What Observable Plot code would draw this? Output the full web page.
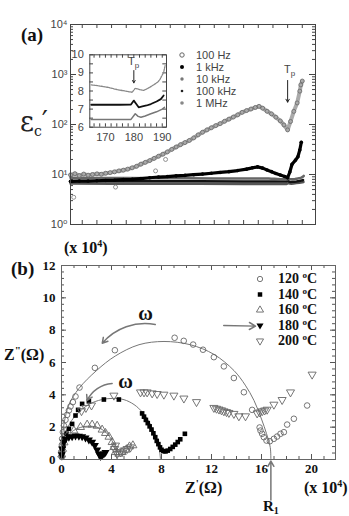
<!DOCTYPE html>
<html><head><meta charset="utf-8">
<script src="https://cdn.jsdelivr.net/npm/d3@7"></script>
<script src="https://cdn.jsdelivr.net/npm/@observablehq/plot@0.6"></script>
<style>
body{margin:0;background:#fff;}
#root{position:relative;width:349px;height:516px;overflow:hidden;background:#fff;}
#root svg{position:absolute;}
.lab{position:absolute;white-space:nowrap;line-height:1;}
.ser{font-family:"Liberation Serif","DejaVu Serif",serif;font-weight:bold;color:#111;}
.san{font-family:"Liberation Sans","DejaVu Sans",sans-serif;color:#444;}
</style></head><body><div id="root"></div>
<script>
// ---------- Panel (a): permittivity vs temperature (log y) ----------
const freqLabels = ["100 Hz", "1 kHz", "10 kHz", "100 kHz", "1 MHz"];
const Tp = 180;
const hz100 = [[32,9.8],[35,10.4],[38,9.5],[41,10.2],[44,9.7],[47,10.0],[50,10.3],[53,10.1],[56,10.6],[59,10.9],[62,11.3],[65,11.8],[68,12.2],[71,12.8],[74,13.6],[77,14.6],[80,16.1],[83,17.5],[86,19],[89,21],[92,23.2],[95,25.5],[98,28.3],[101,31.8],[104,35.5],[107,39.5],[110,43.5],[113,48],[116,54],[119,62],[122,70],[125,78],[128,86],[131,95],[134,104],[137,116],[140,128],[143,141],[146,156],[149,175],[152,190],[155,204],[158,219],[160.5,231],[163,212],[166,184],[169,163],[172,140],[175,118],[177.5,98],[180,78],[182,115],[184.2,183],[186.5,270],[188.3,465],[189,620],[190,740]];
const hz100Outliers = [[34.2,3.5],[62.7,5.6],[90,11.8],[96.8,20]];
const khz1 = [[32,7.3],[38,7.4],[44,7.4],[50,7.5],[56,7.6],[62,7.7],[68,7.9],[74,8.0],[80,8.3],[86,8.6],[92,8.9],[98,9.1],[104,9.4],[110,9.6],[116,9.9],[122,10.2],[128,10.6],[134,11.0],[140,11.4],[146,12.0],[152,12.8],[156,13.6],[159.5,14.2],[163,13.4],[166,12.3],[169,11.4],[172,10.5],[175,9.8],[178,9.1],[180,8.6],[181.5,11.2],[183,16],[185.4,19.4],[187,22.6],[188.3,31],[189.3,44]];
const khz10 = [[32,8.6],[50,8.5],[70,8.5],[90,8.4],[110,8.4],[130,8.3],[150,8.3],[165,8.34],[167,8.3],[169,8.25],[171,8.2],[173,8.12],[175,8.05],[177,8.0],[179.4,7.93],[180.5,8.15],[182,8.08],[183.4,8.03],[185,8.15],[187,8.34],[188.5,8.5],[189.3,8.67],[190.5,9.04],[191,9.4]];
const khz100 = [[32,7.4],[60,7.35],[90,7.3],[120,7.3],[150,7.25],[165,7.24],[170,7.24],[175,7.24],[179,7.25],[180,7.47],[180.8,7.3],[181.7,7.1],[183,7.15],[184.5,7.2],[186,7.28],[188,7.42],[189.5,7.55],[190.5,7.75]];
const mhz1 = [[32,6.6],[60,6.55],[90,6.5],[120,6.5],[150,6.45],[165,6.42],[170,6.42],[175,6.42],[179,6.43],[180.5,6.74],[181.5,6.6],[182.5,6.55],[184,6.62],[186,6.74],[188,6.85],[190,7.0],[190.8,7.1]];
const epsTicks = [1, 10, 100, 1000, 10000];
const insetXTicks = [170, 180, 190];
const insetYTicks = [6, 7, 8, 9, 10];

// ---------- Panel (b): Cole-Cole plots ----------
const tempLabels = ["120", "140", "160", "180", "200"];
const c120 = [[0.02,0.15],[0.0,0.45],[0.03,0.9],[0.05,1.28],[0.11,1.69],[0.19,2.1],[0.32,2.45],[0.45,2.76],[0.59,3.03],[0.72,3.28],[0.91,3.55],[1.12,3.9],[1.44,4.45],[2.67,5.67],[4.27,6.76],[9.05,7.53],[9.78,7.34],[10.53,7.11],[11.32,6.79],[12.19,6.33],[12.99,5.76],[13.79,5.04],[14.59,4.16],[15.25,3.07],[15.85,1.98],[15.92,1.79],[16.05,1.59],[16.19,1.38],[16.4,1.17],[16.67,1.13],[16.99,1.28],[17.25,1.42],[17.52,1.59],[17.79,1.69],[18.05,2.16],[18.59,2.52],[19.65,3.34]];
const s140 = [[0.03,0.2],[0.08,0.5],[0.15,0.85],[0.25,1.2],[0.4,1.6],[0.59,1.9],[0.85,2.2],[1.12,2.72],[1.33,3.07],[1.65,3.44],[2.19,3.6],[3.39,3.71],[4.59,3.71],[6.45,2.85],[6.6,2.65],[6.75,2.45],[6.9,2.25],[7.05,2.05],[7.2,1.85],[7.35,1.62],[7.5,1.38],[7.62,1.15],[7.75,0.95],[7.88,0.75],[8.0,0.6],[8.15,0.52],[8.32,0.5],[8.5,0.55],[8.7,0.65],[8.9,0.78],[9.1,0.92],[9.3,1.08],[9.5,1.25],[9.87,1.59]];
const t160 = [[0.02,0.3],[0.08,0.65],[0.2,1.05],[0.45,1.45],[0.99,1.79],[1.52,2.0],[2.05,2.15],[2.45,2.15],[2.85,2.08],[3.25,1.84],[3.52,1.63],[3.8,1.4],[4.05,1.07],[4.19,0.76],[4.32,0.45],[4.59,0.35],[4.85,0.45],[5.17,0.6],[5.44,0.8],[5.71,0.87]];
const v180 = [[0.02,0.3],[0.05,0.66],[0.19,1.07],[0.32,1.28],[0.59,1.38],[0.85,1.42],[1.12,1.46],[1.39,1.45],[1.65,1.42],[1.92,1.34],[2.19,1.22],[2.45,1.07],[2.67,0.87],[2.85,0.6],[2.99,0.35],[3.12,0.19],[3.25,0.25],[3.39,0.35],[3.52,0.45]];
const v200 = [[4.25,0.66],[4.32,0.87],[4.45,0.35],[4.72,0.45],[4.99,0.56],[5.25,0.66],[5.52,0.76],[1.6,3.0],[1.95,3.2],[2.4,3.35],[4.19,3.96],[6.32,4.16],[6.6,4.16],[6.85,4.16],[7.25,4.1],[7.65,4.06],[8.19,4.02],[8.99,3.96],[9.79,3.78],[10.8,3.56],[12.19,3.2],[12.4,3.15],[12.6,3.1],[12.8,3.05],[12.99,2.99],[13.2,2.94],[13.39,2.89],[13.79,2.83],[14.19,2.68],[14.72,2.68],[15.65,2.86],[15.85,2.92],[16.05,2.99],[16.25,3.04],[16.45,3.09],[16.99,3.4],[17.65,3.69],[18.32,4.16],[20.05,5.26]];
const arc120 = [[0,0],[0.05,1.0],[0.2,2.2],[0.6,3.4],[1.4,4.4],[2.8,5.5],[4.3,6.4],[6.2,7.1],[8.2,7.3],[10.3,7.1],[12.2,6.5],[13.8,5.5],[14.7,4.6],[15.4,3.65],[16.0,2.5],[16.4,1.6],[16.7,0.75],[16.75,0]];
const arc140 = [[0,0],[0.1,0.9],[0.35,1.7],[0.8,2.4],[1.5,3.0],[2.3,3.45],[3.2,3.7],[4.1,3.78],[5.0,3.7],[5.8,3.4],[6.5,2.9],[7.1,2.2],[7.5,1.5],[7.8,0.75],[7.92,0]];
const arc160 = [[0,0],[0.1,0.7],[0.35,1.25],[0.8,1.7],[1.5,1.98],[2.3,2.06],[3.0,1.95],[3.6,1.65],[4.05,1.15],[4.35,0.55],[4.45,0]];
const R1 = 16.75;
const zxTicks = [0, 4, 8, 12, 16, 20];
const zyTicks = [0, 2, 4, 6, 8, 10, 12];

const root = document.getElementById("root");
const X = d => d[0], Y = d => d[1];
const supd = n => "⁰¹²³⁴⁵⁶⁷⁸⁹"[n];

// ---- Main plot (a)
const minorLog = [];
for (const dec of [1, 10, 100, 1000]) for (let k = 2; k <= 9; k++) minorLog.push(dec * k);
const xT = d3.range(40, 199, 10);
const A = Plot.plot({
  width: 349, height: 232, marginLeft: 70, marginRight: 34, marginTop: 24, marginBottom: 8,
  x: {domain: [32, 199], axis: null},
  y: {type: "log", domain: [1, 1e4], axis: null},
  style: {background: "transparent", overflow: "visible", fontFamily: "Liberation Sans, DejaVu Sans, sans-serif", color: "#444"},
  marks: [
    Plot.tickX(xT, {x: d => d, insetTop: 196, stroke: "#444"}),
    Plot.tickX(xT, {x: d => d, insetBottom: 196, stroke: "#444"}),
    Plot.tickY(epsTicks, {y: d => d, insetRight: 239, stroke: "#444"}),
    Plot.tickY(epsTicks, {y: d => d, insetLeft: 239, stroke: "#444"}),
    Plot.tickY(minorLog, {y: d => d, insetRight: 242, stroke: "#444"}),
    Plot.tickY(minorLog, {y: d => d, insetLeft: 242, stroke: "#444"}),
    Plot.axisY({ticks: epsTicks, tickSize: 0, tickPadding: 3, fontSize: 11, label: null,
      tickFormat: d => "10" + supd(Math.round(Math.log10(d)))}),
    Plot.line(mhz1, {x: X, y: Y, stroke: "#555", strokeWidth: 2.5}),
    Plot.line(khz100, {x: X, y: Y, stroke: "#111", strokeWidth: 2.5}),
    Plot.line(khz10, {x: X, y: Y, stroke: "#666", strokeWidth: 2.5}),
    Plot.line(khz1, {x: X, y: Y, stroke: "#000", strokeWidth: 3.2}),
    Plot.dot(khz1, {x: X, y: Y, fill: "#000", r: 1.8}),
    Plot.line(hz100, {x: X, y: Y, stroke: "#aaa", strokeWidth: 4}),
    Plot.dot(hz100, {x: X, y: Y, stroke: "#666", fill: "none", r: 2, strokeWidth: 0.8}),
    Plot.dot(hz100Outliers, {x: X, y: Y, stroke: "#777", fill: "none", r: 2, strokeWidth: 0.8}),
    Plot.arrow([0], {x1: Tp, x2: Tp, y1: 760, y2: 280, stroke: "#222", headLength: 5, strokeWidth: 1}),
    Plot.frame({stroke: "#444"})
  ]
});
A.style.left = "0px"; A.style.top = "0px";
root.appendChild(A);

// ---- Inset
const inXTicksMinor = d3.range(166, 192, 2);
const I = Plot.plot({
  width: 116, height: 104, marginLeft: 29.3, marginRight: 10, marginTop: 10.3, marginBottom: 21.3,
  x: {domain: [164.5, 191.5], axis: null},
  y: {domain: [6, 10], axis: null},
  style: {background: "transparent", overflow: "visible", fontFamily: "Liberation Sans, DejaVu Sans, sans-serif", color: "#444"},
  marks: [
    Plot.frame({fill: "white", stroke: null}),
    Plot.tickX(inXTicksMinor, {x: d => d, insetTop: 69, stroke: "#444"}),
    Plot.tickX(inXTicksMinor, {x: d => d, insetBottom: 69, stroke: "#444"}),
    Plot.tickY(d3.range(6, 10.01, 0.5), {y: d => d, insetRight: 73, stroke: "#444"}),
    Plot.tickY(d3.range(6, 10.01, 0.5), {y: d => d, insetLeft: 73, stroke: "#444"}),
    Plot.axisY({ticks: insetYTicks, tickSize: 0, tickPadding: 6, fontSize: 11, label: null, tickFormat: d => String(d)}),
    Plot.axisX({ticks: insetXTicks, tickSize: 0, tickPadding: 6, fontSize: 11, label: null, tickFormat: d => String(d)}),
    Plot.line(khz10.filter(d => d[0] >= 164.5), {x: X, y: Y, stroke: "#888", strokeWidth: 1.3, strokeDasharray: "1.5,1"}),
    Plot.line(khz100.filter(d => d[0] >= 164.5), {x: X, y: Y, stroke: "#111", strokeWidth: 1.8}),
    Plot.line(mhz1.filter(d => d[0] >= 164.5), {x: X, y: Y, stroke: "#777", strokeWidth: 1.5}),
    Plot.arrow([0], {x1: Tp, x2: Tp, y1: 9.13, y2: 8.45, stroke: "#222", headLength: 4, strokeWidth: 1}),
    Plot.frame({stroke: "#444"})
  ]
});
I.style.left = "60px"; I.style.top = "44px";
root.appendChild(I);

// ---- Panel (b)
const B = Plot.plot({
  width: 349, height: 266, marginLeft: 61, marginRight: 14, marginTop: 15, marginBottom: 57,
  x: {domain: [0, 21.92], axis: null},
  y: {domain: [0, 12], axis: null},
  style: {background: "transparent", overflow: "visible", fontFamily: "Liberation Serif, DejaVu Serif, serif", fontWeight: "bold", color: "#111"},
  marks: [
    Plot.tickX(d3.range(0, 22, 1), {x: d => d, insetTop: 191, stroke: "#555"}),
    Plot.tickX(d3.range(0, 22, 1), {x: d => d, insetBottom: 191, stroke: "#555"}),
    Plot.tickX(zxTicks, {x: d => d, insetTop: 189, stroke: "#555"}),
    Plot.tickX(zxTicks, {x: d => d, insetBottom: 189, stroke: "#555"}),
    Plot.tickY(d3.range(0, 12.01, 0.4), {y: d => d, insetRight: 271, stroke: "#555"}),
    Plot.tickY(d3.range(0, 12.01, 0.4), {y: d => d, insetLeft: 271, stroke: "#555"}),
    Plot.tickY(zyTicks, {y: d => d, insetRight: 269, stroke: "#555"}),
    Plot.tickY(zyTicks, {y: d => d, insetLeft: 269, stroke: "#555"}),
    Plot.axisX({ticks: zxTicks, tickSize: 0, tickPadding: 4, fontSize: 13, label: null}),
    Plot.axisY({ticks: zyTicks, tickSize: 0, tickPadding: 6, fontSize: 13, label: null}),
    Plot.line(arc120, {x: X, y: Y, stroke: "#777", strokeWidth: 1, curve: "catmull-rom"}),
    Plot.line(arc140, {x: X, y: Y, stroke: "#777", strokeWidth: 1, curve: "catmull-rom"}),
    Plot.line(arc160, {x: X, y: Y, stroke: "#777", strokeWidth: 1, curve: "catmull-rom"}),
    Plot.dot(c120, {x: X, y: Y, r: 2.8, stroke: "#666", fill: "none", strokeWidth: 0.9}),
    Plot.dot(s140, {x: X, y: Y, r: 2.6, symbol: "square", fill: "#000"}),
    Plot.dot(t160, {x: X, y: Y, r: 3, symbol: "triangle", stroke: "#666", fill: "none", strokeWidth: 0.9}),
    Plot.dot(v180, {x: X, y: Y, r: 3, symbol: "triangle", rotate: 180, fill: "#000"}),
    Plot.dot(v200, {x: X, y: Y, r: 3, symbol: "triangle", rotate: 180, stroke: "#666", fill: "none", strokeWidth: 0.9}),
    Plot.arrow([0], {x1: 7.5, y1: 8.35, x2: 3.26, y2: 7.19, bend: -30, stroke: "#777", headLength: 6}),
    Plot.arrow([0], {x1: 4.05, y1: 4.7, x2: 2.05, y2: 3.65, bend: -30, stroke: "#777", headLength: 6}),
    Plot.arrow([0], {x1: 12.98, y1: 8.29, x2: 15.52, y2: 8.25, stroke: "#777", headLength: 7}),
    Plot.arrow([0], {x1: R1, x2: R1, y1: -2.5, y2: -0.1, stroke: "#777", headLength: 6}),
    Plot.text(["ω"], {x: 6.72, y: 9.0, text: d => d, fontSize: 20, fill: "#111"}),
    Plot.text(["ω"], {x: 5.12, y: 4.84, text: d => d, fontSize: 20, fill: "#111"}),
    Plot.frame({stroke: "#666"})
  ]
});
B.style.left = "0px"; B.style.top = "250px";
root.appendChild(B);

// ---- Legends & labels overlay
const ov = d3.select(root).append("svg").attr("width", 349).attr("height", 516)
  .style("left", "0px").style("top", "0px").style("pointer-events", "none");
// legend (a)
const legA = [
  {fill: "none", stroke: "#666", r: 2.2},
  {fill: "#000", stroke: "none", r: 2},
  {fill: "#777", stroke: "none", r: 1.7},
  {fill: "#222", stroke: "none", r: 1.3},
  {fill: "#888", stroke: "none", r: 1.8}
];
freqLabels.forEach((t, i) => {
  const y = 55 + i * 12;
  ov.append("circle").attr("cx", 182).attr("cy", y).attr("r", legA[i].r)
    .attr("fill", legA[i].fill).attr("stroke", legA[i].stroke);
  const d = document.createElement("div");
  d.className = "lab san"; d.style.left = "196px"; d.style.top = (y - 5.5) + "px"; d.style.fontSize = "11px";
  d.textContent = t; root.appendChild(d);
});
// legend (b)
const legB = [
  {type: d3.symbolCircle, fill: "none", stroke: "#666", rot: 0, size: 22},
  {type: d3.symbolSquare, fill: "#000", stroke: "none", rot: 0, size: 20},
  {type: d3.symbolTriangle, fill: "none", stroke: "#666", rot: 0, size: 22},
  {type: d3.symbolTriangle, fill: "#000", stroke: "none", rot: 180, size: 22},
  {type: d3.symbolTriangle, fill: "none", stroke: "#666", rot: 180, size: 22}
];
tempLabels.forEach((t, i) => {
  const y = 279 + i * 15.5;
  ov.append("path").attr("d", d3.symbol(legB[i].type, legB[i].size)())
    .attr("transform", `translate(260,${y}) rotate(${legB[i].rot})`)
    .attr("fill", legB[i].fill).attr("stroke", legB[i].stroke).attr("stroke-width", 0.9);
  const d = document.createElement("div");
  d.className = "lab ser"; d.style.left = "278px"; d.style.top = (y - 7) + "px"; d.style.fontSize = "14px";
  d.innerHTML = t + " <span style='font-size:9px;position:relative;top:-5px'>o</span>C";
  root.appendChild(d);
});
function lab(html, cls, left, top, size, extra) {
  const d = document.createElement("div");
  d.className = "lab " + cls; d.style.left = left + "px"; d.style.top = top + "px";
  d.style.fontSize = size + "px"; d.innerHTML = html;
  if (extra) d.style.cssText += extra;
  root.appendChild(d);
}
lab("(a)", "ser", 21, 25, 19);
lab("ε<span style='font-size:14px;position:relative;top:5px'>c</span>′", "", 20, 108, 27,
  "font-family:'DejaVu Serif',serif;color:#222;");
lab("T<span style='font-size:8px;position:relative;top:3px'>p</span>", "san", 284, 64, 11);
lab("T<span style='font-size:8px;position:relative;top:3px'>p</span>", "san", 128, 56, 11);
lab("(x 10<span style='font-size:10px;position:relative;top:-6px'>4</span>)", "ser", 64, 240, 16);
lab("(b)", "ser", 11, 259, 19);
lab("Z<span style='font-size:11px;position:relative;top:-6px'>\"</span>(Ω)", "ser", 4, 347, 16);
lab("Z<span style='font-size:11px;position:relative;top:-6px'>'</span>(Ω)", "ser", 185, 480, 16);
lab("(x 10<span style='font-size:10px;position:relative;top:-6px'>4</span>)", "ser", 304, 480, 16);
lab("R<span style='font-size:10px;position:relative;top:3px'>1</span>", "ser", 263, 499, 15);
</script></body></html>
